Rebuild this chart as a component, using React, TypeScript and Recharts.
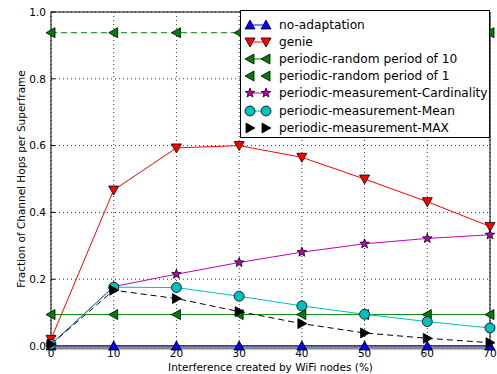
import {
  LineChart,
  Line,
  XAxis,
  YAxis,
  CartesianGrid,
  ReferenceArea,
} from 'recharts'

// interference levels (%)
const interference = [0, 10, 20, 30, 40, 50, 60, 70]

const noAdaptation = [0, 0, 0, 0, 0, 0, 0, 0]
const genie = [0.02, 0.467, 0.593, 0.6, 0.565, 0.5, 0.432, 0.358]
const randomPeriod10 = [0.094, 0.094, 0.094, 0.094, 0.094, 0.094, 0.094, 0.094]
const randomPeriod1 = [0.938, 0.938, 0.938, 0.938, 0.938, 0.938, 0.938, 0.938]
const measCardinality = [0.005, 0.178, 0.215, 0.25, 0.281, 0.306, 0.322, 0.333]
const measMean = [0.005, 0.176, 0.175, 0.149, 0.12, 0.095, 0.073, 0.054]
const measMax = [0.005, 0.167, 0.142, 0.103, 0.067, 0.039, 0.023, 0.01]

const yTicks = [0, 0.2, 0.4, 0.6, 0.8, 1.0]

type Shape = 'up' | 'down' | 'left' | 'right' | 'star' | 'circle'

interface SeriesDef {
  key: string
  name: string
  color: string
  shape: Shape
  dash?: string
}

const series: SeriesDef[] = [
  { key: 'noAdaptation', name: 'no-adaptation', color: '#0000ff', shape: 'up' },
  { key: 'genie', name: 'genie', color: '#ff0000', shape: 'down' },
  { key: 'randomPeriod10', name: 'periodic-random period of 10', color: '#008000', shape: 'left' },
  { key: 'randomPeriod1', name: 'periodic-random period of 1', color: '#008000', shape: 'left', dash: '6 4' },
  { key: 'measCardinality', name: 'periodic-measurement-Cardinality', color: '#bf00bf', shape: 'star' },
  { key: 'measMean', name: 'periodic-measurement-Mean', color: '#00bfbf', shape: 'circle' },
  { key: 'measMax', name: 'periodic-measurement-MAX', color: '#000000', shape: 'right', dash: '6 4' },
]

const data = interference.map((x, i) => ({
  x,
  noAdaptation: noAdaptation[i],
  genie: genie[i],
  randomPeriod10: randomPeriod10[i],
  randomPeriod1: randomPeriod1[i],
  measCardinality: measCardinality[i],
  measMean: measMean[i],
  measMax: measMax[i],
}))

function markerPath(shape: Shape, cx: number, cy: number): string {
  const r = 5
  switch (shape) {
    case 'up':
      return `M${cx},${cy - r} L${cx + r},${cy + r * 0.8} L${cx - r},${cy + r * 0.8} Z`
    case 'down':
      return `M${cx},${cy + r} L${cx + r},${cy - r * 0.8} L${cx - r},${cy - r * 0.8} Z`
    case 'left':
      return `M${cx - r},${cy} L${cx + r * 0.8},${cy - r} L${cx + r * 0.8},${cy + r} Z`
    case 'right':
      return `M${cx + r},${cy} L${cx - r * 0.8},${cy - r} L${cx - r * 0.8},${cy + r} Z`
    case 'star': {
      const pts: string[] = []
      for (let k = 0; k < 10; k++) {
        const rad = k % 2 === 0 ? 5 : 2.1
        const a = -Math.PI / 2 + (k * Math.PI) / 5
        pts.push(`${cx + rad * Math.cos(a)},${cy + rad * Math.sin(a)}`)
      }
      return `M${pts.join(' L')} Z`
    }
    default:
      return ''
  }
}

function Marker({ shape, cx, cy, fill }: { shape: Shape; cx: number; cy: number; fill: string }) {
  if (shape === 'circle') {
    return <circle cx={cx} cy={cy} r={5} fill={fill} stroke="#000" strokeWidth={0.8} />
  }
  return <path d={markerPath(shape, cx, cy)} fill={fill} stroke="#000" strokeWidth={0.8} />
}

// legend box sits over the upper right of the plot
function LegendBox() {
  return (
    <div
      style={{
        position: 'absolute',
        left: 240,
        top: 10,
        width: 250,
        height: 128,
        boxSizing: 'border-box',
        background: '#fff',
        border: '1px solid #000',
        padding: '5px 0 0 3px',
        fontFamily: 'DejaVu Sans',
        fontSize: 12.2,
        color: '#000',
        whiteSpace: 'nowrap',
      }}
    >
      {series.map((s) => (
        <div key={s.key} style={{ display: 'flex', alignItems: 'center', height: 17.2 }}>
          <svg width={30} height={14} style={{ marginRight: 5 }}>
            {!s.dash && <line x1={5} y1={7} x2={22} y2={7} stroke={s.color} strokeWidth={1} />}
            <Marker shape={s.shape} cx={6} cy={7} fill={s.color} />
            <Marker shape={s.shape} cx={22} cy={7} fill={s.color} />
          </svg>
          <span>{s.name}</span>
        </div>
      ))}
    </div>
  )
}

export default function App() {
  return (
    <div style={{ position: 'fixed', left: 0, top: 0, width: 497, height: 374, background: '#fff' }}>
      <LineChart
        width={497}
        height={374}
        data={data}
        margin={{ top: 12, right: 7, left: 0, bottom: 0 }}
        style={{ fontFamily: 'DejaVu Sans' }}
      >
        <CartesianGrid stroke="#000" strokeDasharray="1 3" strokeWidth={0.8} />
        <XAxis
          dataKey="x"
          type="number"
          domain={[0, 70]}
          ticks={interference}
          height={28}
          tickSize={-4}
          tickLine={{ stroke: '#000' }}
          axisLine={{ stroke: '#8a8a8a', strokeWidth: 3, transform: 'translate(0 2)' }}
          tick={{ fill: '#000', fontSize: 10.5 }}
          tickMargin={8}
          label={{
            value: 'Interference created by WiFi nodes (%)',
            position: 'insideBottom',
            offset: 3,
            fill: '#000',
            fontSize: 10.5,
          }}
        />
        <YAxis
          type="number"
          domain={[0, 1]}
          ticks={yTicks}
          width={51}
          tickSize={-4}
          tickLine={{ stroke: '#000' }}
          axisLine={false}
          tick={{ fill: '#000', fontSize: 10.5 }}
          tickFormatter={(v: number) => v.toFixed(1)}
          tickMargin={9}
          label={{
            value: 'Fraction of Channel Hops per Superframe',
            angle: -90,
            position: 'insideLeft',
            offset: 21,
            style: { textAnchor: 'middle' },
            fill: '#000',
            fontSize: 10.5,
          }}
        />
        {series.map((s) => (
          <Line
            key={s.key}
            type="linear"
            dataKey={s.key}
            name={s.name}
            stroke={s.color}
            strokeWidth={1}
            strokeDasharray={s.dash}
            isAnimationActive={false}
            dot={(p: any) => <Marker key={`${s.key}-${p.index}`} shape={s.shape} cx={p.cx} cy={p.cy} fill={s.color} />}
            activeDot={false}
          />
        ))}
        {/* plot frame */}
        <ReferenceArea x1={0} x2={70} y1={0} y2={1} fill="none" stroke="#000" strokeWidth={1} ifOverflow="visible" />
      </LineChart>
      <LegendBox />
    </div>
  )
}
